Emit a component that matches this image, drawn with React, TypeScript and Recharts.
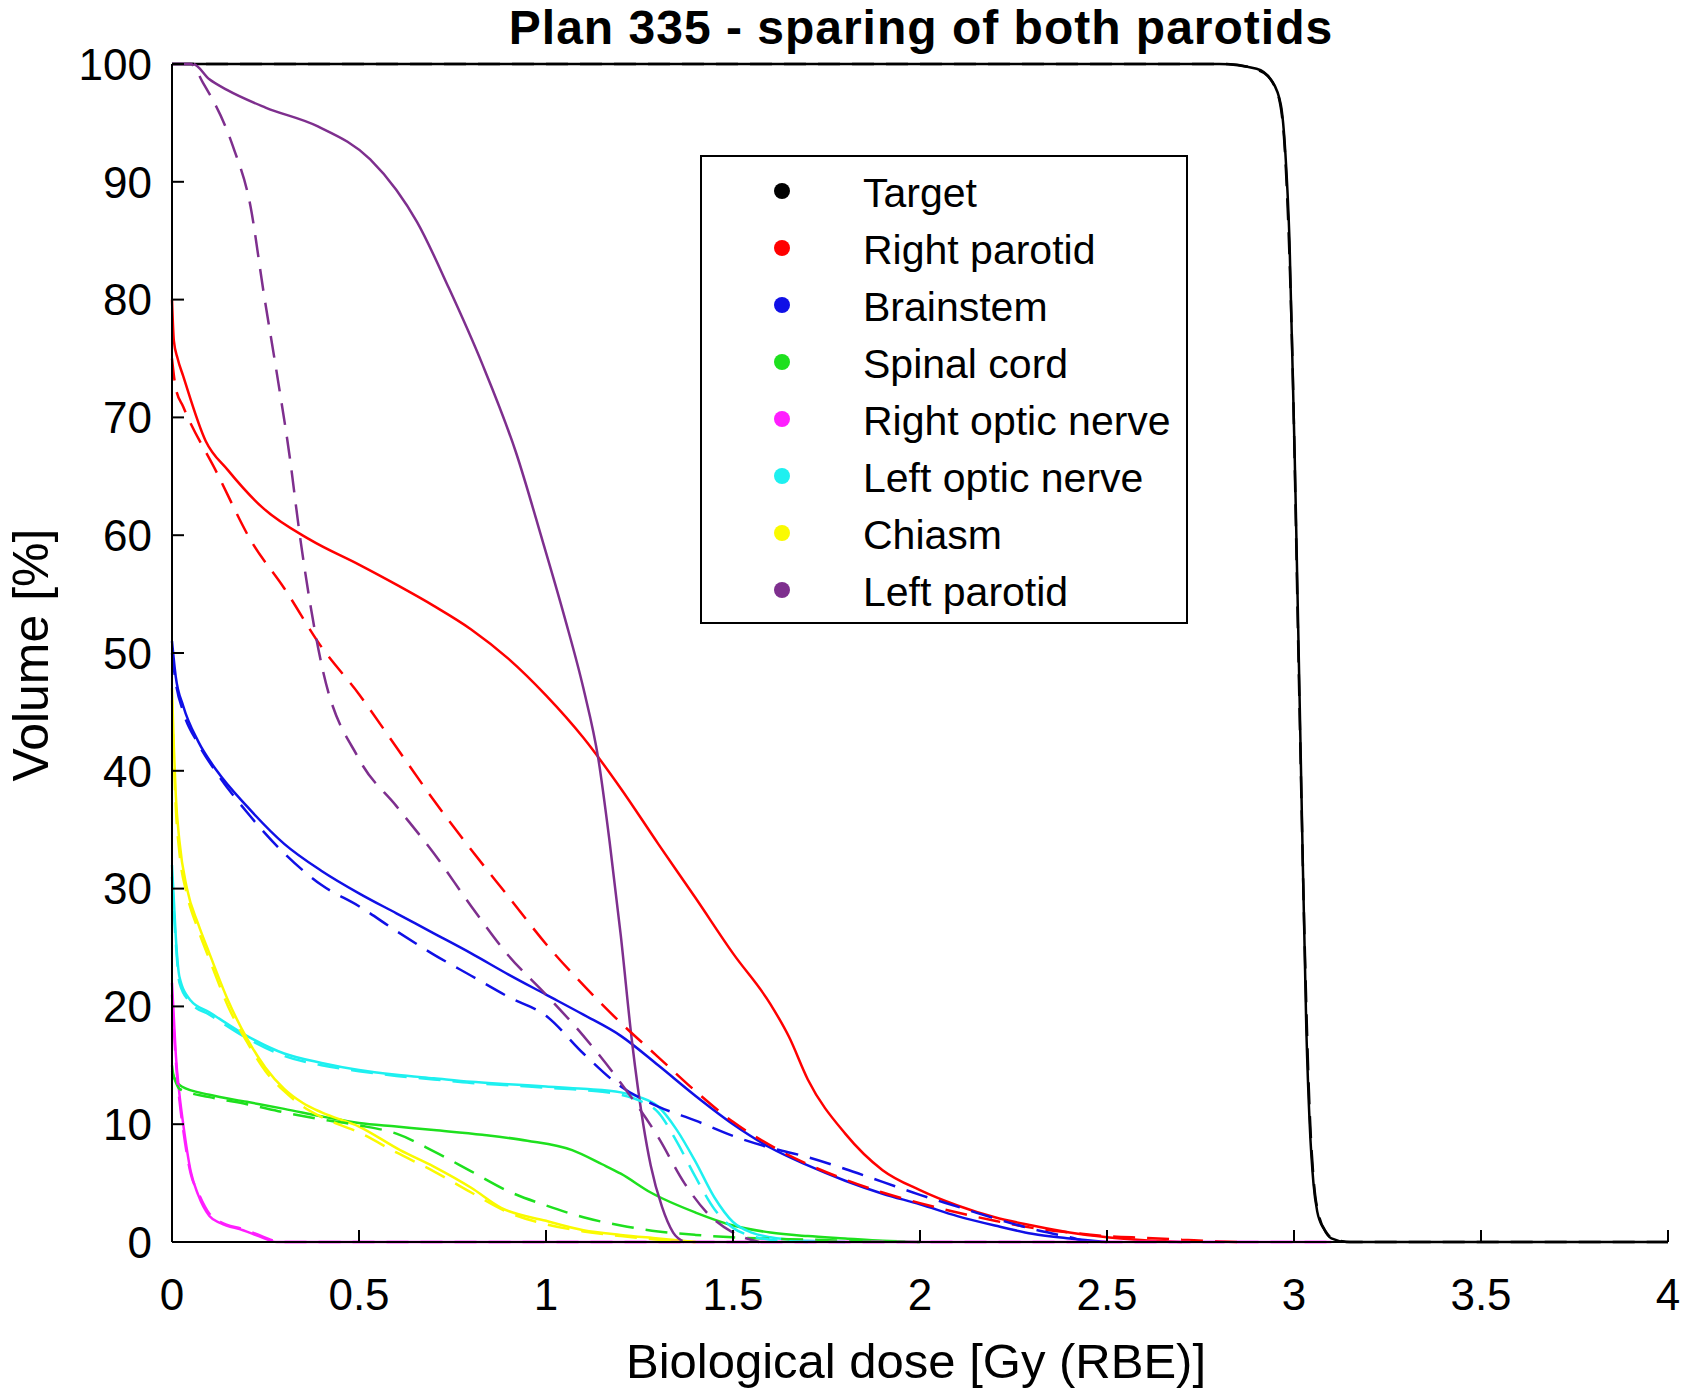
import React from "react";
import { LineChart, Line, XAxis, YAxis, Legend } from "recharts";

type Pt = [number, number];

const doseTicks = [0, 0.5, 1, 1.5, 2, 2.5, 3, 3.5, 4];
const volumeTicks = [0, 10, 20, 30, 40, 50, 60, 70, 80, 90, 100];

const structureNames = [
  "Target",
  "Right parotid",
  "Brainstem",
  "Spinal cord",
  "Right optic nerve",
  "Left optic nerve",
  "Chiasm",
  "Left parotid",
];
const structureColors = ["#000000", "#ff0000", "#1010e6", "#1ee01e", "#ff1eff", "#1ef0f0", "#fafa00", "#7e2f8e"];

// dose [Gy (RBE)], volume [%]; solid and dashed curve per structure
const targetSolid: Pt[] = [[0, 100], [2.8, 100], [2.9, 99.6], [2.94, 98.6], [2.965, 96.5], [2.977, 92.4], [2.988, 85], [3.005, 62], [3.02, 38], [3.033, 18], [3.042, 10], [3.052, 5], [3.062, 2.6], [3.08, 1.1], [3.1, 0.3], [3.14, 0], [4, 0]];
const targetDashed: Pt[] = [[0, 100], [2.82, 100], [2.91, 99.4], [2.95, 98], [2.97, 95], [2.98, 90], [2.995, 76], [3.013, 48], [3.028, 26], [3.042, 11], [3.052, 5.5], [3.067, 2.2], [3.087, 0.8], [3.11, 0.2], [3.15, 0], [4, 0]];

const rightParotidSolid: Pt[] = [[0, 80], [0.005, 76.5], [0.015, 75], [0.03, 73.5], [0.09, 68], [0.15, 65.5], [0.24, 62.4], [0.37, 59.6], [0.5, 57.5], [0.6, 55.8], [0.7, 54], [0.8, 52], [0.9, 49.5], [1.0, 46.4], [1.1, 42.8], [1.2, 38.5], [1.3, 33.8], [1.4, 29.2], [1.5, 24.5], [1.6, 20.2], [1.65, 17.4], [1.7, 13.8], [1.8, 9.2], [1.9, 6.1], [2.0, 4.4], [2.1, 3.1], [2.2, 2.1], [2.3, 1.4], [2.4, 0.8], [2.5, 0.4], [2.6, 0.15], [2.7, 0]];
const rightParotidDashed: Pt[] = [[0, 75], [0.01, 72.5], [0.03, 70.9], [0.12, 65.3], [0.21, 59.6], [0.3, 55.5], [0.4, 50.5], [0.5, 46.5], [0.6, 42], [0.7, 37.5], [0.8, 33.3], [0.9, 29.3], [1.0, 25.3], [1.1, 21.8], [1.2, 18.6], [1.3, 15.7], [1.4, 12.8], [1.5, 10.2], [1.6, 8.2], [1.7, 6.6], [1.8, 5.3], [1.9, 4.2], [2.0, 3.3], [2.1, 2.5], [2.2, 1.8], [2.3, 1.2], [2.4, 0.8], [2.5, 0.5], [2.6, 0.35], [2.7, 0.2], [2.8, 0.05], [2.85, 0]];

const brainstemSolid: Pt[] = [[0, 51], [0.01, 48], [0.03, 45.5], [0.07, 42.5], [0.12, 40], [0.2, 37], [0.3, 33.8], [0.4, 31.5], [0.5, 29.6], [0.6, 27.9], [0.7, 26.2], [0.8, 24.5], [0.9, 22.7], [1.0, 21], [1.1, 19.3], [1.2, 17.5], [1.3, 15], [1.4, 12.4], [1.5, 10], [1.6, 8], [1.7, 6.5], [1.8, 5.2], [1.9, 4.1], [2.0, 3.2], [2.1, 2.2], [2.2, 1.4], [2.3, 0.7], [2.4, 0.3], [2.5, 0]];
const brainstemDashed: Pt[] = [[0, 50], [0.01, 47.5], [0.03, 45], [0.07, 42.3], [0.12, 39.8], [0.2, 36.5], [0.3, 33], [0.4, 30.3], [0.5, 28.5], [0.6, 26.4], [0.7, 24.4], [0.8, 22.6], [0.9, 20.8], [1.0, 19.2], [1.1, 16], [1.2, 13.2], [1.3, 11.5], [1.4, 10.3], [1.5, 9], [1.6, 8], [1.7, 7.2], [1.8, 6.2], [1.9, 5.1], [2.0, 4], [2.1, 3], [2.2, 2], [2.3, 1.1], [2.4, 0.4], [2.45, 0]];

const spinalCordSolid: Pt[] = [[0, 15], [0.005, 14], [0.026, 13.2], [0.1, 12.5], [0.2, 11.9], [0.3, 11.3], [0.41, 10.6], [0.5, 10.1], [0.6, 9.8], [0.7, 9.5], [0.83, 9.1], [0.95, 8.6], [1.07, 7.8], [1.15, 6.6], [1.2, 5.8], [1.28, 4.2], [1.4, 2.5], [1.5, 1.4], [1.6, 0.8], [1.7, 0.5], [1.8, 0.3], [1.9, 0.1], [2.0, 0]];
const spinalCordDashed: Pt[] = [[0, 14.5], [0.02, 13], [0.1, 12.3], [0.2, 11.7], [0.3, 11], [0.4, 10.4], [0.5, 9.9], [0.6, 9.2], [0.7, 7.7], [0.8, 6], [0.9, 4.3], [1.0, 3.1], [1.1, 2.1], [1.2, 1.4], [1.3, 0.9], [1.4, 0.6], [1.5, 0.4], [1.7, 0.2], [1.9, 0.05], [2.0, 0]];

const rightOpticSolid: Pt[] = [[0, 22], [0.005, 19], [0.01, 16], [0.02, 12.5], [0.03, 10], [0.05, 6], [0.07, 4], [0.1, 2.2], [0.13, 1.6], [0.19, 1.0], [0.24, 0.4], [0.28, 0], [3.1, 0]];
const rightOpticDashed: Pt[] = [[0, 21], [0.005, 18], [0.01, 15.5], [0.02, 12], [0.03, 9.5], [0.05, 5.8], [0.07, 4.2], [0.1, 2.4], [0.13, 1.7], [0.19, 1.1], [0.24, 0.5], [0.29, 0], [3.1, 0]];

const leftOpticSolid: Pt[] = [[0, 32], [0.005, 29], [0.01, 26], [0.02, 22.5], [0.05, 20.5], [0.1, 19.5], [0.2, 17.5], [0.3, 16], [0.4, 15.2], [0.5, 14.6], [0.6, 14.2], [0.7, 13.9], [0.8, 13.6], [0.9, 13.4], [1.0, 13.2], [1.1, 13], [1.2, 12.7], [1.25, 12.3], [1.3, 11.5], [1.35, 9.5], [1.4, 6.8], [1.45, 3.8], [1.5, 1.7], [1.55, 0.8], [1.6, 0.4], [1.7, 0.1], [1.8, 0]];
const leftOpticDashed: Pt[] = [[0, 31], [0.005, 28], [0.01, 25.5], [0.02, 22], [0.05, 20.3], [0.1, 19.3], [0.2, 17.3], [0.3, 15.8], [0.4, 15], [0.5, 14.5], [0.6, 14.1], [0.7, 13.8], [0.8, 13.5], [0.9, 13.3], [1.0, 13.1], [1.1, 12.9], [1.2, 12.5], [1.25, 12], [1.3, 11], [1.35, 8.5], [1.4, 5.5], [1.45, 2.8], [1.5, 1.2], [1.55, 0.5], [1.6, 0.2], [1.7, 0]];

const chiasmSolid: Pt[] = [[0, 47], [0.005, 42], [0.01, 38], [0.02, 34], [0.04, 30], [0.07, 27], [0.1, 24.5], [0.15, 20.5], [0.2, 17.3], [0.25, 14.8], [0.3, 13], [0.35, 11.8], [0.4, 11], [0.5, 9.8], [0.61, 7.8], [0.7, 6.4], [0.8, 4.6], [0.88, 2.9], [1.0, 1.8], [1.1, 1.0], [1.2, 0.6], [1.3, 0.3], [1.4, 0]];
const chiasmDashed: Pt[] = [[0, 46], [0.005, 41], [0.01, 37], [0.02, 33], [0.04, 29.5], [0.07, 26.5], [0.1, 24], [0.15, 20], [0.2, 17], [0.25, 14.5], [0.3, 12.8], [0.35, 11.5], [0.4, 10.6], [0.5, 9.3], [0.6, 7.6], [0.7, 6], [0.8, 4.2], [0.9, 2.5], [1.0, 1.5], [1.1, 0.9], [1.2, 0.5], [1.3, 0.2], [1.4, 0]];

const leftParotidSolid: Pt[] = [[0, 100], [0.056, 100], [0.1, 98.7], [0.147, 97.8], [0.25, 96.3], [0.39, 94.7], [0.53, 91.9], [0.6, 89.3], [0.655, 86.6], [0.74, 81], [0.83, 74.5], [0.92, 67], [0.99, 59.6], [1.05, 53], [1.1, 47], [1.14, 41], [1.17, 34], [1.2, 26], [1.23, 17], [1.26, 10], [1.28, 6.5], [1.31, 3], [1.34, 0.8], [1.37, 0]];
const leftParotidDashed: Pt[] = [[0, 100], [0.05, 100], [0.083, 98.4], [0.163, 93], [0.21, 87.9], [0.245, 80.6], [0.28, 73.8], [0.315, 66.6], [0.34, 60.4], [0.4, 49], [0.5, 41], [0.6, 37], [0.7, 33], [0.8, 28.5], [0.9, 24.3], [1.0, 21], [1.1, 17.5], [1.2, 13.5], [1.3, 8.9], [1.37, 5], [1.43, 2.5], [1.5, 0.8], [1.57, 0]];

const solidCurves: Pt[][] = [targetSolid, rightParotidSolid, brainstemSolid, spinalCordSolid, rightOpticSolid, leftOpticSolid, chiasmSolid, leftParotidSolid];
const dashedCurves: Pt[][] = [targetDashed, rightParotidDashed, brainstemDashed, spinalCordDashed, rightOpticDashed, leftOpticDashed, chiasmDashed, leftParotidDashed];

const FONT = '"Liberation Sans", Arial, Helvetica, sans-serif';

const toRows = (pts: Pt[]) => pts.map(([x, y]) => ({ x, y }));

const XTick = (props: any) => {
  const { x, y, payload } = props;
  return (
    <g>
      <line x1={x} x2={x} y1={y} y2={y - 12} stroke="#000" strokeWidth={2} />
      <text x={x} y={y + 68} textAnchor="middle" fontSize={44} fontFamily={FONT} fill="#000">
        {payload.value}
      </text>
    </g>
  );
};

const YTick = (props: any) => {
  const { x, y, payload } = props;
  return (
    <g>
      <line x1={x} x2={x + 12} y1={y} y2={y} stroke="#000" strokeWidth={2} />
      <text x={x - 20} y={y} dy="0.36em" textAnchor="end" fontSize={44} fontFamily={FONT} fill="#000">
        {payload.value}
      </text>
    </g>
  );
};

const LegendBox = () => (
  <div
    style={{
      width: 488,
      height: 469,
      boxSizing: "border-box",
      border: "2px solid #000",
      background: "#fff",
      position: "relative",
      fontFamily: FONT,
      fontSize: 41,
      color: "#000",
    }}
  >
    {structureNames.map((name, i) => (
      <div
        key={name}
        style={{ position: "absolute", left: 0, top: 34 - 28 + i * 57 - 1, height: 57, display: "flex", alignItems: "center" }}
      >
        <span
          style={{
            position: "absolute",
            left: 72,
            width: 16,
            height: 16,
            borderRadius: 8,
            background: structureColors[i],
          }}
        />
        <span style={{ position: "absolute", left: 161, top: 8, whiteSpace: "nowrap", lineHeight: "46px" }}>{name}</span>
      </div>
    ))}
  </div>
);

export default function App() {
  return (
    <div style={{ position: "absolute", left: 0, top: 0, width: 1701, height: 1391, background: "#fff" }}>
      <div
        style={{
          position: "absolute",
          left: 421,
          top: 4,
          width: 1000,
          textAlign: "center",
          fontFamily: FONT,
          fontWeight: "bold",
          fontSize: 48,
          letterSpacing: 1,
          lineHeight: "48px",
          color: "#000",
          zIndex: 2,
        }}
      >
        Plan 335 - sparing of both parotids
      </div>
      <LineChart width={1701} height={1391} margin={{ top: 64, right: 33, bottom: 89, left: 0 }}>
        <XAxis
          dataKey="x"
          type="number"
          domain={[0, 4]}
          ticks={doseTicks}
          interval={0}
          height={60}
          tickSize={0}
          tickMargin={0}
          tickLine={false}
          axisLine={{ stroke: "#000", strokeWidth: 2 }}
          tick={XTick}
          label={() => (
            <text x={916} y={1378} textAnchor="middle" fontSize={49} fontFamily={FONT} fill="#000">
              Biological dose [Gy (RBE)]
            </text>
          )}
        />
        <YAxis
          type="number"
          domain={[0, 100]}
          ticks={volumeTicks}
          interval={0}
          width={172}
          tickSize={0}
          tickMargin={0}
          tickLine={false}
          axisLine={{ stroke: "#000", strokeWidth: 2 }}
          tick={YTick}
          label={() => (
            <text
              x={48}
              y={655}
              transform="rotate(-90 48 655)"
              textAnchor="middle"
              fontSize={50}
              fontFamily={FONT}
              fill="#000"
            >
              Volume [%]
            </text>
          )}
        />
        <Legend
          layout="horizontal"
          verticalAlign="middle"
          align="center"
          wrapperStyle={{ left: 700, top: 155, width: 488, height: 469 }}
          content={() => <LegendBox />}
        />
        {solidCurves.map((pts, i) => (
          <Line
            key={`solid-${i}`}
            data={toRows(pts)}
            dataKey="y"
            name={structureNames[i]}
            type="monotone"
            stroke={structureColors[i]}
            strokeWidth={2.5}
            dot={false}
            activeDot={false}
            legendType="none"
            isAnimationActive={false}
          />
        ))}
        {dashedCurves.map((pts, i) => (
          <Line
            key={`dashed-${i}`}
            data={toRows(pts)}
            dataKey="y"
            name={`${structureNames[i]} (dashed)`}
            type="monotone"
            stroke={structureColors[i]}
            strokeWidth={2.5}
            strokeDasharray="22 12"
            dot={false}
            activeDot={false}
            legendType="none"
            isAnimationActive={false}
          />
        ))}
      </LineChart>
    </div>
  );
}
